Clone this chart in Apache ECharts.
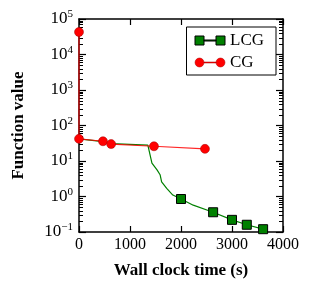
<!DOCTYPE html>
<html><head><meta charset="utf-8">
<script src="https://cdn.jsdelivr.net/npm/echarts@6/dist/echarts.min.js"></script>
<style>html,body{margin:0;padding:0;background:#fff}#c{width:314px;height:291px}</style>
</head><body><div id="c"></div>
<script>
// Data
const lcgX = [0, 470, 640, 1350, 1430, 1530, 1590, 1620, 1720, 1840, 2000, 2240, 2630, 3000, 3290, 3610];
const lcgY = [42, 35, 31, 28, 8.7, 5.6, 4.1, 2.6, 1.7, 1.1, 0.85, 0.57, 0.36, 0.22, 0.16, 0.12];
const lcgMarked = [false, false, false, false, false, false, false, false, false, false, true, false, true, true, true, true];
const cgX = [0, 0, 470, 630, 1470, 2470];
const cgY = [43000, 42, 36, 30, 26, 22];
const xTicks = [0, 1000, 2000, 3000, 4000];
const yMin = 0.1, yMax = 100000;

const minorVals = [];
for (let k = -1; k < 5; k++) for (let m = 2; m <= 9; m++) minorVals.push(m * Math.pow(10, k));

const FONT = 'Liberation Serif';
const chart = echarts.init(document.getElementById('c'), null, {renderer: 'canvas'});

const supMap = {'-1': '\u22121'};
function yFmt(v) {
  const e = Math.round(Math.log10(v));
  return '{b|10}{s|' + (supMap[e] || e) + '}';
}

const lcgData = lcgX.map((x, i) => lcgMarked[i] ? [x, lcgY[i]] : {value: [x, lcgY[i]], symbol: 'none'});
const cgData = cgX.map((x, i) => [x, cgY[i]]);

chart.setOption({
  animation: false,
  grid: {left: 79, right: 31, top: 19, bottom: 59, show: false},
  legend: {
    right: 38, top: 27, orient: 'vertical',
    borderColor: '#000', borderWidth: 1, borderRadius: 0,
    padding: [5, 12, 4, 8], itemGap: 5,
    itemWidth: 30, itemHeight: 10,
    textStyle: {fontFamily: FONT, fontSize: 17, color: '#000', lineHeight: 17},
    data: [
      {name: 'LCG', icon: 'path://M0 0h9v9h-9z M21 0h9v9h-9z M9 4h12v1h-12z', itemStyle: {color: '#008000', borderColor: '#000', borderWidth: 1}},
      {name: 'CG', icon: 'path://M0 4.5a4.5 4.5 0 1 0 9 0a4.5 4.5 0 1 0 -9 0z M21 4.5a4.5 4.5 0 1 0 9 0a4.5 4.5 0 1 0 -9 0z M9 4h12v1h-12z', itemStyle: {color: '#ff0000', borderColor: '#a00', borderWidth: 0.5}}
    ]
  },
  xAxis: [{
    type: 'value', min: 0, max: 4000, interval: 1000,
    name: 'Wall clock time (s)', nameLocation: 'middle', nameGap: 30,
    nameTextStyle: {fontFamily: FONT, fontSize: 17, fontWeight: 'bold', color: '#000'},
    axisLine: {show: true, lineStyle: {color: '#000', width: 1.5}},
    axisTick: {show: true, inside: true, length: 6, lineStyle: {color: '#000', width: 1.2}},
    axisLabel: {fontFamily: FONT, fontSize: 16, color: '#000', margin: 5, formatter: v => String(v)},
    splitLine: {show: false}
  }, {
    type: 'value', min: 0, max: 4000, interval: 1000, position: 'top',
    axisLine: {show: true, onZero: false, lineStyle: {color: '#000', width: 1.5}},
    axisTick: {show: true, inside: true, length: 6, lineStyle: {color: '#000', width: 1.2}},
    axisLabel: {show: false}, splitLine: {show: false}
  }],
  yAxis: [{
    type: 'log', logBase: 10, min: yMin, max: yMax,
    name: 'Function value', nameLocation: 'middle', nameGap: 52,
    nameTextStyle: {fontFamily: FONT, fontSize: 17, fontWeight: 'bold', color: '#000'},
    axisLine: {show: true, onZero: false, lineStyle: {color: '#000', width: 1.5}},
    axisTick: {show: true, inside: true, length: 7, lineStyle: {color: '#000', width: 1.2}},
    axisLabel: {
      fontFamily: FONT, color: '#000', margin: 6, formatter: yFmt,
      rich: {b: {fontFamily: FONT, fontSize: 17, color: '#000'}, s: {fontFamily: FONT, fontSize: 11, color: '#000', padding: [0, 0, 9, 0]}}
    },
    splitLine: {show: false}
  }, {
    type: 'log', logBase: 10, min: yMin, max: yMax, position: 'right',
    axisLine: {show: true, onZero: false, lineStyle: {color: '#000', width: 1.5}},
    axisTick: {show: true, inside: true, length: 7, lineStyle: {color: '#000', width: 1.2}},
    axisLabel: {show: false}, splitLine: {show: false}
  }],
  series: [{
    type: 'custom', name: 'minor', silent: true, xAxisIndex: 0, yAxisIndex: 0,
    data: minorVals.map(v => [0, v]),
    renderItem: function (params, api) {
      const p = api.coord([0, api.value(1)]);
      const cs = params.coordSys;
      const y = Math.round(p[1]) + 0.5;
      return {type: 'group', children: [
        {type: 'line', shape: {x1: cs.x, y1: y, x2: cs.x + 4, y2: y}, style: {stroke: '#000', lineWidth: 1}},
        {type: 'line', shape: {x1: cs.x + cs.width - 4, y1: y, x2: cs.x + cs.width, y2: y}, style: {stroke: '#000', lineWidth: 1}}
      ]};
    }
  }, {
    name: 'LCG', type: 'line', data: lcgData, showAllSymbol: true,
    symbol: 'rect', symbolSize: 9,
    lineStyle: {color: '#008000', width: 1.2},
    itemStyle: {color: '#008000', borderColor: '#000', borderWidth: 1},
    z: 3
  }, {
    name: 'CG', type: 'line', data: cgData, showAllSymbol: true,
    symbol: 'circle', symbolSize: 9,
    lineStyle: {color: '#ff0000', width: 1.2, opacity: 0.85},
    itemStyle: {color: '#ff0000', borderColor: '#a00000', borderWidth: 0.5},
    z: 4
  }]
});
</script></body></html>
